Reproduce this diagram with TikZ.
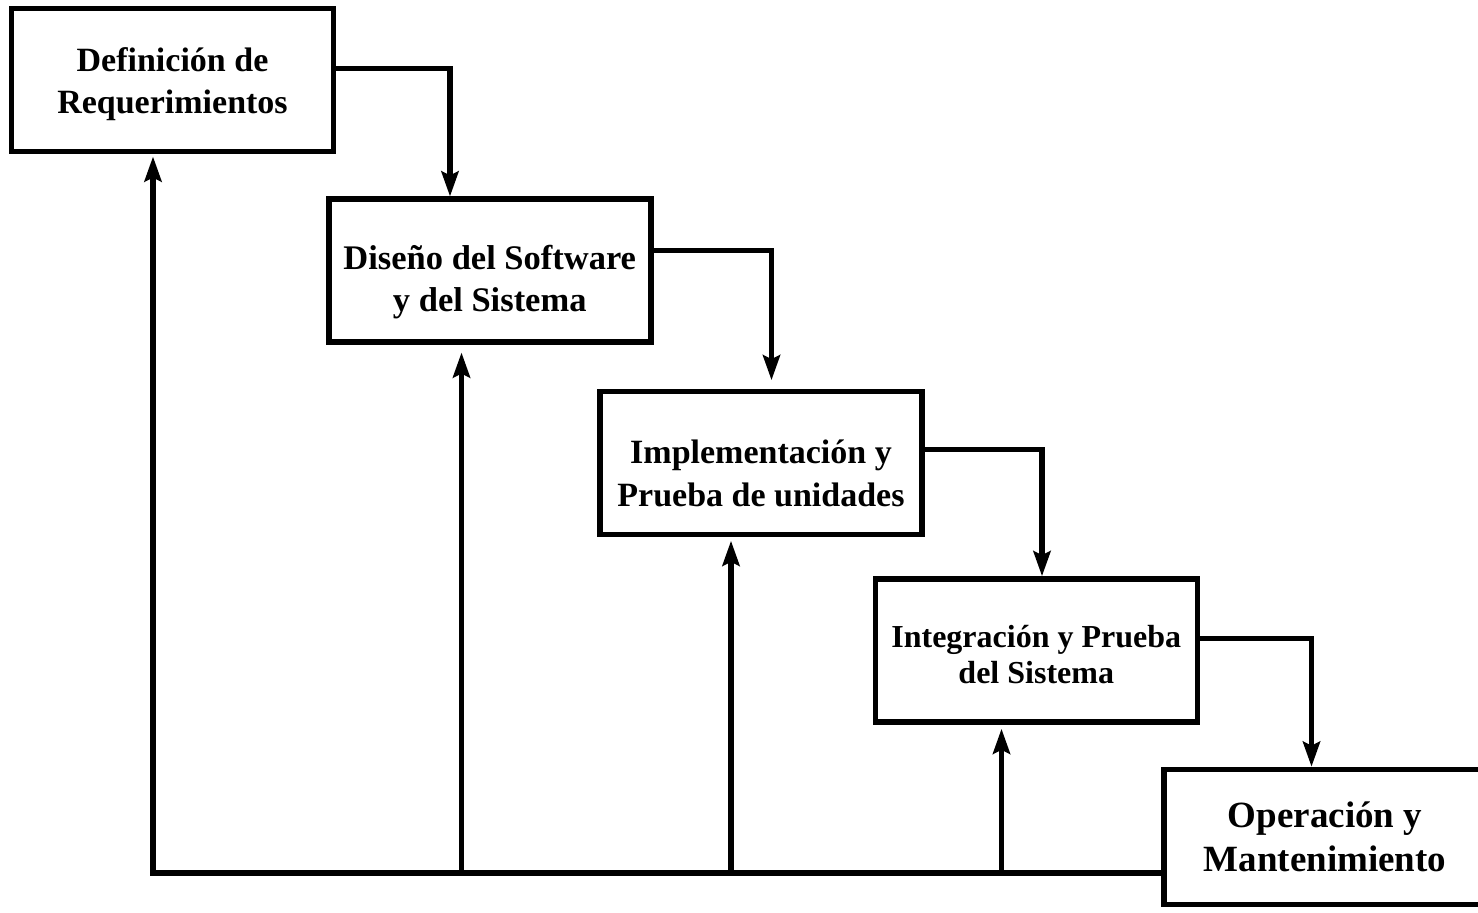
\documentclass[tikz,border=0pt]{standalone}
\usepackage{fontspec}
\setmainfont{Liberation Serif}
\usetikzlibrary{arrows.meta,calc}

\begin{document}
\begin{tikzpicture}[x=0.5pt,y=-0.5pt,
  fase/.style={draw,line width=2.75pt,inner sep=0pt,
    minimum width=161pt,minimum height=71.5pt},
  txt/.style={align=center,inner sep=0pt},
  flow/.style={line width=2.75pt,-{Stealth[length=12.5pt,width=8.5pt,inset=2pt]}}]
\useasboundingbox (0,0) rectangle (1478,913);

% fases del modelo en cascada
\node[fase] (b1) at (172.5,80.25) {};
\node[fase] (b2) at (489.75,270.75) {};
\node[fase] (b3) at (761,463) {};
\node[fase] (b4) at (1036.25,650.5) {};
\node[fase,minimum height=67.5pt] (b5) at (1325,837) {};

\node[txt,font=\bfseries\fontsize{17pt}{21pt}\selectfont] (t1) at ($(b1)+(0,4)$) {Definición de\\Requerimientos};
\node[txt,font=\bfseries\fontsize{17.25pt}{21pt}\selectfont] (t2) at ($(b2)+(0,11)$) {Diseño del Software\\y del Sistema};
\node[txt,font=\bfseries\fontsize{17pt}{21.5pt}\selectfont] (t3) at ($(b3)+(0,10)$) {Implementación y\\Prueba de unidades};
\node[txt,font=\bfseries\fontsize{16pt}{18pt}\selectfont] (t4) at ($(b4)+(0,4)$) {Integración y Prueba\\del Sistema};
\node[txt,font=\bfseries\fontsize{18.5pt}{22pt}\selectfont] (t5) at (b5) {Operación y\\Mantenimiento};

% flujo hacia abajo
\draw[flow] ($(b1.east)+(0,-11.75)$) -| ($(b2.north)+(-39.75,0)$);
\draw[flow,shorten >=4.25pt] ($(b2.east)+(0,-20.25)$) -| ($(b3.north)+(10.5,0)$);
\draw[flow] ($(b3.east)+(0,-13.5)$) -| ($(b4.north)+(5.75,0)$);
\draw[flow] ($(b4.east)+(0,-12)$) -| ($(b5.north)+(-13.5,0)$);

% retroalimentacion
\coordinate (f1) at (153,873);
\coordinate (f2) at (461.5,873);
\coordinate (f3) at (731,873);
\coordinate (f4) at (1001.5,873);
\draw[flow,shorten >=1pt] (b5.west |- f1) -- (f1) -- (f1 |- b1.south);
\foreach \f/\b/\s in {f2/b2/3.75pt,f3/b3/1.75pt,f4/b4/2pt}
  \draw[flow,shorten >=\s] (\f) -- (\f |- \b.south);

\end{tikzpicture}
\end{document}
